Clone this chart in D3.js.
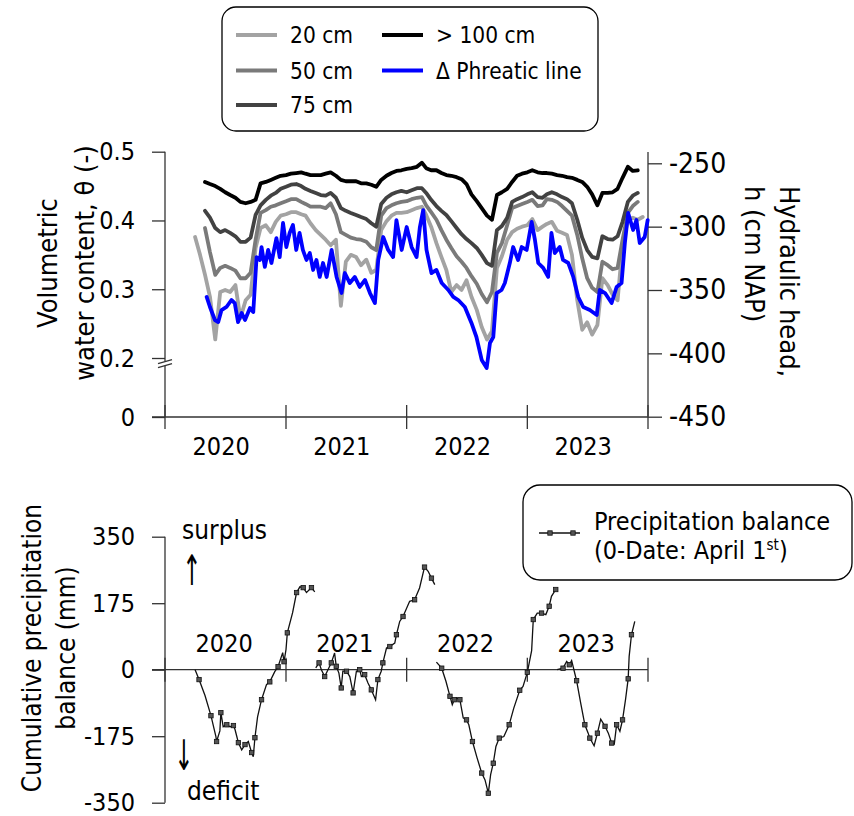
<!DOCTYPE html>
<meta charset="utf-8">
<style>
body { margin: 0; background: #fff; }
svg { font-family: "DejaVu Sans Condensed", "DejaVu Sans", sans-serif; font-stretch: condensed; }
.axis line { stroke: #333; stroke-width: 1.3px; }
.axisline { stroke: #333; stroke-width: 1.3px; fill: none; }
.series { fill: none; stroke-width: 3.8px; stroke-linejoin: round; stroke-linecap: round; }
</style>
<svg width="854" height="816"></svg>
<script src="https://d3js.org/d3.v7.min.js"></script>
<script>

// soil moisture, semi-monthly readings
var moistDates = [
  "2020-04-01","2020-04-16","2020-05-01","2020-05-16","2020-06-01","2020-06-16","2020-07-01","2020-07-16","2020-08-01","2020-08-16","2020-09-01","2020-09-16","2020-10-01","2020-10-16","2020-11-01","2020-11-16","2020-12-01","2020-12-16",
  "2021-01-01","2021-01-16","2021-02-01","2021-02-16","2021-03-01","2021-03-16","2021-04-01","2021-04-16","2021-05-01","2021-05-16","2021-06-01","2021-06-16","2021-07-01","2021-07-16","2021-08-01","2021-08-16","2021-09-01","2021-09-16","2021-10-01","2021-10-16","2021-11-01","2021-11-16","2021-12-01","2021-12-16",
  "2022-01-01","2022-01-16","2022-02-01","2022-02-16","2022-03-01","2022-03-16","2022-04-01","2022-04-16","2022-05-01","2022-05-16","2022-06-01","2022-06-16","2022-07-01","2022-07-16","2022-08-01","2022-08-16","2022-09-01","2022-09-16","2022-10-01","2022-10-16","2022-11-01","2022-11-16","2022-12-01","2022-12-16",
  "2023-01-01","2023-01-16","2023-02-01","2023-02-16","2023-03-01","2023-03-16","2023-04-01","2023-04-16","2023-05-01","2023-05-16","2023-06-01","2023-06-16","2023-07-01","2023-07-16","2023-08-01","2023-08-16","2023-09-01","2023-09-16","2023-10-01","2023-10-16","2023-11-01","2023-11-16","2023-12-01","2023-12-16"
];
var theta20 = [
  0.376,0.350,0.321,0.289,0.227,0.296,0.299,0.296,0.306,0.258,0.284,0.292,0.360,0.389,0.393,0.383,0.398,0.407,
  0.409,0.412,0.412,0.409,0.407,0.396,0.386,0.379,0.372,0.364,0.372,0.276,0.340,0.350,0.347,0.335,0.343,0.324,0.328,0.386,0.399,0.407,0.411,0.411,
  0.412,0.415,0.418,0.420,0.408,0.391,0.367,0.347,0.328,0.296,0.306,0.299,0.313,0.289,0.270,0.245,0.227,0.239,0.331,0.348,0.372,0.383,0.388,0.391,
  0.393,0.402,0.386,0.391,0.395,0.398,0.385,0.382,0.379,0.350,0.284,0.241,0.252,0.234,0.248,0.316,0.306,0.292,0.284,0.364,0.401,0.404,0.401,0.405
];
var theta50 = [
  null,null,0.389,0.354,0.321,0.331,0.334,0.331,0.327,0.316,0.316,0.324,0.372,0.411,0.415,0.420,0.422,0.425,
  0.428,0.431,0.431,0.427,0.424,0.420,0.420,0.420,0.418,0.425,0.409,0.383,0.379,0.375,0.373,0.372,0.369,0.361,0.357,0.407,0.418,0.422,0.425,0.427,
  0.428,0.431,0.433,0.434,0.422,0.412,0.401,0.386,0.372,0.360,0.348,0.340,0.331,0.319,0.308,0.293,0.281,0.296,0.353,0.367,0.393,0.418,0.421,0.424,
  0.427,0.430,0.421,0.422,0.431,0.430,0.427,0.421,0.414,0.407,0.379,0.345,0.316,0.302,0.296,0.340,0.335,0.329,0.331,0.372,0.411,0.421,0.427,null
];
var theta75 = [
  null,null,0.414,0.404,0.389,0.383,0.386,0.382,0.377,0.369,0.369,0.375,0.408,0.422,0.430,0.436,0.440,0.446,
  0.449,0.452,0.453,0.450,0.446,0.443,0.440,0.437,0.436,0.440,0.433,0.418,0.414,0.411,0.408,0.405,0.402,0.396,0.391,0.424,0.433,0.438,0.441,0.443,
  0.441,0.444,0.447,0.447,0.440,0.430,0.421,0.414,0.408,0.399,0.389,0.380,0.373,0.367,0.360,0.350,0.338,0.334,0.386,0.392,0.404,0.427,0.431,0.434,
  0.438,0.441,0.434,0.433,0.438,0.441,0.438,0.434,0.431,0.425,0.401,0.375,0.357,0.347,0.345,0.377,0.373,0.372,0.377,0.398,0.427,0.436,0.440,null
];
var theta100 = [
  null,null,0.456,0.453,0.450,0.446,0.441,0.437,0.433,0.427,0.425,0.427,0.430,0.454,0.456,0.459,0.462,0.465,
  0.466,0.468,0.469,0.470,0.468,0.466,0.466,0.466,0.468,0.470,0.465,0.459,0.457,0.457,0.457,0.454,0.454,0.452,0.449,0.459,0.465,0.469,0.472,0.473,
  0.475,0.476,0.478,0.484,0.476,0.473,0.473,0.469,0.466,0.465,0.463,0.460,0.453,0.438,0.428,0.418,0.407,0.401,0.437,0.441,0.446,0.456,0.465,0.468,
  0.470,0.473,0.470,0.469,0.469,0.468,0.466,0.465,0.463,0.462,0.459,0.456,0.449,0.438,0.422,0.440,0.440,0.441,0.446,0.462,0.478,0.472,0.473,null
];

// phreatic line (hydraulic head, cm NAP)
var headDates = [
  "2020-05-06","2020-05-16","2020-05-31","2020-06-10","2020-06-20","2020-07-05","2020-07-20","2020-07-30","2020-08-09","2020-08-20","2020-08-30","2020-09-14","2020-09-24",
  "2020-10-04","2020-10-14","2020-10-19","2020-10-29","2020-11-08","2020-11-18","2020-12-03","2020-12-13","2020-12-23",
  "2021-01-02","2021-01-12","2021-01-22","2021-02-01","2021-02-11","2021-02-21","2021-03-04","2021-03-14","2021-03-24","2021-04-03","2021-04-13","2021-04-23",
  "2021-05-04","2021-05-19","2021-06-03","2021-06-18","2021-06-28","2021-07-13","2021-07-28","2021-08-12","2021-08-28","2021-09-12","2021-09-27",
  "2021-10-07","2021-10-22","2021-11-06","2021-11-21","2021-12-01","2021-12-17",
  "2022-01-01","2022-01-16","2022-01-31","2022-02-10","2022-02-20","2022-03-02","2022-03-17","2022-04-01","2022-04-17","2022-05-07","2022-05-22",
  "2022-06-06","2022-06-26","2022-07-16","2022-07-31","2022-08-16","2022-08-31","2022-09-10","2022-09-20","2022-09-30","2022-10-15","2022-10-25",
  "2022-11-09","2022-11-19","2022-12-04","2022-12-15","2022-12-30",
  "2023-01-14","2023-01-24","2023-02-03","2023-02-18","2023-03-05","2023-03-15","2023-03-25","2023-04-09","2023-04-19","2023-05-05","2023-05-20",
  "2023-06-04","2023-06-19","2023-07-09","2023-07-30","2023-08-08","2023-08-24","2023-09-13","2023-09-28","2023-10-13","2023-10-23",
  "2023-11-02","2023-11-17","2023-11-27","2023-12-07","2023-12-22","2023-12-31"
];
var headValues = [
  -355.5,-363.4,-373.7,-375.3,-365.8,-363.4,-357.9,-360.3,-375.3,-368.2,-373.7,-364.2,-367.4,
  -324.0,-326.3,-316.1,-331.8,-318.4,-328.7,-309.0,-324.0,-297.1,
  -316.1,-305.0,-298.7,-318.4,-305.0,-318.4,-326.3,-320.8,-334.2,-326.3,-339.7,-328.7,
  -339.7,-318.4,-339.7,-352.4,-336.6,-344.5,-339.7,-347.6,-342.1,-352.4,-360.3,
  -326.3,-308.2,-318.4,-324.0,-294.8,-318.4,
  -300.3,-316.1,-324.0,-300.3,-286.9,-318.4,-336.6,-334.2,-344.5,-350.0,-355.5,
  -357.9,-363.4,-376.0,-387.1,-405.2,-411.6,-391.8,-387.1,-352.4,-350.0,-344.5,
  -328.7,-316.1,-326.3,-316.1,-318.4,
  -296.3,-310.5,-328.7,-332.6,-339.7,-305.0,-320.8,-316.1,-326.3,-328.7,-339.7,
  -355.5,-363.4,-365.8,-369.7,-350.0,-352.4,-360.3,-347.6,-344.5,-312.9,
  -289.2,-302.6,-294.8,-312.9,-308.2,-294.8
];

// cumulative precipitation balance (mm), one run per season from April 1st
var seasons = ["2020", "2021", "2022", "2023"];
var precipDates = [
  ["2020-04-01","2020-04-13","2020-05-01","2020-05-19","2020-06-03","2020-06-05","2020-06-15","2020-06-18","2020-06-25","2020-07-06","2020-07-16","2020-07-26","2020-07-31",
   "2020-08-10","2020-08-20","2020-08-30","2020-09-09","2020-09-19","2020-09-24","2020-09-29","2020-10-07","2020-10-19","2020-11-03","2020-11-13","2020-11-28",
   "2020-12-08","2020-12-22","2020-12-26","2021-01-01","2021-01-05","2021-01-21","2021-02-02","2021-02-12","2021-02-22","2021-03-04","2021-03-19","2021-03-29"],
  ["2021-04-01","2021-04-11","2021-04-18","2021-04-28","2021-05-08","2021-05-18","2021-05-28","2021-06-02","2021-06-10","2021-06-17","2021-06-22","2021-07-03","2021-07-13",
   "2021-07-23","2021-08-02","2021-08-12","2021-08-17","2021-08-27","2021-09-06","2021-09-16","2021-09-29","2021-10-06","2021-10-16","2021-10-21","2021-11-01",
   "2021-11-11","2021-11-26","2021-12-01","2021-12-11","2021-12-21","2022-01-10","2022-01-25","2022-02-09","2022-02-24","2022-03-07","2022-03-17","2022-03-27"],
  ["2022-04-01","2022-04-17","2022-04-30","2022-05-12","2022-05-19","2022-05-25","2022-06-01","2022-06-11","2022-06-21","2022-07-01","2022-07-08","2022-07-19","2022-08-02",
   "2022-08-16","2022-08-26","2022-09-05","2022-09-12","2022-09-20","2022-09-28","2022-10-08","2022-10-22","2022-11-07","2022-11-21","2022-12-09","2022-12-19",
   "2023-01-01","2023-01-14","2023-01-19","2023-01-31","2023-02-13","2023-02-26","2023-03-08","2023-03-15","2023-03-28"],
  ["2023-04-01","2023-04-19","2023-04-30","2023-05-08","2023-05-15","2023-05-30","2023-06-11","2023-06-24","2023-07-04","2023-07-09","2023-07-22","2023-08-01","2023-08-11",
   "2023-08-24","2023-09-03","2023-09-13","2023-09-21","2023-09-28","2023-10-08","2023-10-16","2023-10-25","2023-11-02","2023-11-05","2023-11-12","2023-11-22"]
];
var precipBalance = [
  [0,-26,-68,-121,-176,-189,-161,-113,-150,-145,-150,-147,-158,-192,-211,-197,-189,-218,-229,-179,-124,-79,-39,-32,-5,8,45,21,53,97,150,203,218,216,203,216,205],
  [5,18,0,-18,0,18,44,9,-9,-48,-4,-4,-18,-61,-4,0,-18,-13,-35,-53,-79,-26,-4,18,57,61,70,92,127,140,180,184,215,270,259,241,224],
  [20,4,-31,-70,-92,-79,-74,-79,-127,-132,-145,-189,-232,-272,-290,-325,-276,-246,-202,-180,-176,-145,-101,-54,-44,-7,50,132,149,149,145,167,193,211],
  [0,4,22,13,24,-29,-86,-145,-167,-180,-200,-167,-130,-149,-167,-193,-196,-145,-162,-132,-79,-24,35,92,127]
];

var years = [2020, 2021, 2022, 2023];
var thetaTicks = [0, 0.2, 0.3, 0.4, 0.5];
var headTicks = [-450, -400, -350, -300, -250];
var precipTicks = [-350, -175, 0, 175, 350];

var legendNames = ["20 cm", "50 cm", "75 cm", "> 100 cm", "\u0394 Phreatic line"];
var seriesColors = ["#a3a3a3", "#7a7a7a", "#424242", "#000000", "#0000ff"];

var svg = d3.select("svg");
var parse = d3.timeParse("%Y-%m-%d");
var plain = function(d) { return String(d); };

var x = d3.scaleTime().domain([new Date(2020, 0, 1), new Date(2024, 0, 1)]).range([165, 648]);
var yTheta = d3.scaleLinear().domain([0, 0.2, 0.5]).range([417, 358, 151.7]);
var yHead = d3.scaleLinear().domain([-450, -250]).range([416.7, 163.3]);
var yPrec = d3.scaleLinear().domain([-350, 350]).range([802.7, 536.7]);

function cleanAxis(g, size) {
  g.attr("font-family", null).attr("font-size", null);
  g.select(".domain").remove();
  g.selectAll("text").style("font-size", size + "px").attr("fill", "#000");
}

// ---- top chart axes
var gL = svg.append("g").attr("class", "axis").attr("transform", "translate(165,0)")
  .call(d3.axisLeft(yTheta).tickValues(thetaTicks)
    .tickFormat(function(d) { return d === 0 ? "0" : d.toFixed(1); })
    .tickSize(13).tickPadding(17));
cleanAxis(gL, 25);

// left axis line with a break between 0 and 0.2
svg.append("line").attr("class", "axisline").attr("x1", 165).attr("x2", 165)
  .attr("y1", yTheta(0.5)).attr("y2", 361);
svg.append("line").attr("class", "axisline").attr("x1", 165).attr("x2", 165)
  .attr("y1", 366).attr("y2", yTheta(0));
[361.5, 365.5].forEach(function(by) {
  svg.append("line").attr("class", "axisline").attr("x1", 158).attr("x2", 172)
    .attr("y1", by + 2).attr("y2", by - 2);
});

var gR = svg.append("g").attr("class", "axis").attr("transform", "translate(648,0)")
  .call(d3.axisRight(yHead).tickValues(headTicks).tickFormat(plain).tickSize(14).tickPadding(7));
cleanAxis(gR, 28);
svg.append("line").attr("class", "axisline").attr("x1", 648).attr("x2", 648)
  .attr("y1", 152).attr("y2", yHead(-450));

svg.append("line").attr("class", "axisline").attr("x1", 152).attr("x2", 648)
  .attr("y1", yTheta(0)).attr("y2", yTheta(0));
years.concat([2024]).forEach(function(yr) {
  svg.append("line").attr("class", "axisline")
    .attr("x1", x(new Date(yr, 0, 1))).attr("x2", x(new Date(yr, 0, 1)))
    .attr("y1", yTheta(0) - 12).attr("y2", yTheta(0) + 12);
});
svg.append("g").selectAll("text").data(years).enter().append("text")
  .attr("x", function(d) { return x(new Date(d, 6, 1)) - 4; })
  .attr("y", 446).attr("text-anchor", "middle").attr("dominant-baseline", "central")
  .style("font-size", "25px").text(function(d) { return d; });

// ---- top chart series
var thetaSeries = [theta20, theta50, theta75, theta100];
var lineTheta = d3.line()
  .defined(function(d) { return d.v !== null; })
  .x(function(d) { return x(d.date); })
  .y(function(d) { return yTheta(d.v); });

thetaSeries.forEach(function(vals, i) {
  var pts = moistDates.map(function(s, k) { return { date: parse(s), v: vals[k] }; });
  svg.append("path").attr("class", "series").attr("stroke", seriesColors[i]).attr("d", lineTheta(pts));
});

var headPts = headDates.map(function(s, k) { return { date: parse(s), v: headValues[k] }; });
svg.append("path").attr("class", "series").attr("stroke", seriesColors[4])
  .attr("d", d3.line().x(function(d) { return x(d.date); }).y(function(d) { return yHead(d.v); })(headPts));

// axis titles
svg.append("text").attr("transform", "translate(47,263) rotate(-90)")
  .attr("text-anchor", "middle").attr("dominant-baseline", "central")
  .style("font-size", "27px").text("Volumetric");
svg.append("text").attr("transform", "translate(84,263) rotate(-90)")
  .attr("text-anchor", "middle").attr("dominant-baseline", "central")
  .style("font-size", "27px").text("water content,  \u03b8 (-)");
svg.append("text").attr("transform", "translate(789,186) rotate(90)")
  .attr("text-anchor", "start").attr("dominant-baseline", "central")
  .style("font-size", "27px").text("Hydraulic head,");
svg.append("text").attr("transform", "translate(754,186) rotate(90)")
  .attr("text-anchor", "start").attr("dominant-baseline", "central")
  .style("font-size", "27px").text("h (cm NAP)");

// ---- top legend
svg.append("rect").attr("x", 222).attr("y", 7).attr("width", 376).attr("height", 124)
  .attr("rx", 14).attr("fill", "#fff").attr("stroke", "#000").attr("stroke-width", 1.3);
var legPos = [[236, 35], [236, 70.5], [236, 105], [382, 35], [382, 70.5]];
legendNames.forEach(function(name, i) {
  var p = legPos[i];
  svg.append("line").attr("x1", p[0]).attr("x2", p[0] + 41).attr("y1", p[1]).attr("y2", p[1])
    .attr("stroke", seriesColors[i]).attr("stroke-width", 4);
  svg.append("text").attr("x", p[0] + 54).attr("y", p[1]).attr("dominant-baseline", "central")
    .style("font-size", "22.5px").text(name);
});

// ---- bottom chart axes
var gB = svg.append("g").attr("class", "axis").attr("transform", "translate(165,0)")
  .call(d3.axisLeft(yPrec).tickValues(precipTicks).tickFormat(plain).tickSize(13).tickPadding(17));
cleanAxis(gB, 25);
svg.append("line").attr("class", "axisline").attr("x1", 165).attr("x2", 165)
  .attr("y1", yPrec(350)).attr("y2", yPrec(-350));
svg.append("line").attr("class", "axisline").attr("x1", 152).attr("x2", 648)
  .attr("y1", yPrec(0)).attr("y2", yPrec(0));
years.concat([2024]).forEach(function(yr) {
  svg.append("line").attr("class", "axisline")
    .attr("x1", x(new Date(yr, 0, 1))).attr("x2", x(new Date(yr, 0, 1)))
    .attr("y1", yPrec(0) - 12).attr("y2", yPrec(0) + 12);
});
svg.append("g").selectAll("text").data(years).enter().append("text")
  .attr("x", function(d) { return x(new Date(d, 6, 1)) - 1; })
  .attr("y", 643).attr("text-anchor", "middle").attr("dominant-baseline", "central")
  .style("font-size", "25px").text(function(d) { return d; });

// bottom series
var linePrec = d3.line().x(function(d) { return x(d.date); }).y(function(d) { return yPrec(d.v); });
seasons.forEach(function(s, i) {
  var pts = precipDates[i].map(function(ds, k) { return { date: parse(ds), v: precipBalance[i][k] }; });
  svg.append("path").attr("fill", "none").attr("stroke", "#111").attr("stroke-width", 1.3)
    .attr("d", linePrec(pts));
  svg.append("g").selectAll("rect").data(pts.filter(function(d, k) { return k % 2 === 1; }))
    .enter().append("rect")
    .attr("x", function(d) { return x(d.date) - 2.2; })
    .attr("y", function(d) { return yPrec(d.v) - 2.2; })
    .attr("width", 4.4).attr("height", 4.4)
    .attr("fill", "#555").attr("stroke", "#111").attr("stroke-width", 0.8);
});

svg.append("text").attr("transform", "translate(32,648) rotate(-90)")
  .attr("text-anchor", "middle").attr("dominant-baseline", "central")
  .style("font-size", "26px").text("Cumulative precipitation");
svg.append("text").attr("transform", "translate(66,648) rotate(-90)")
  .attr("text-anchor", "middle").attr("dominant-baseline", "central")
  .style("font-size", "26px").text("balance (mm)");

svg.append("text").attr("x", 182).attr("y", 539).style("font-size", "26px").text("surplus");
svg.append("text").attr("transform", "translate(192,570) scale(0.6,1)")
  .attr("text-anchor", "middle").attr("dominant-baseline", "central")
  .style("font-size", "42px").text("\u2191");
svg.append("text").attr("transform", "translate(184,755) scale(0.6,1)")
  .attr("text-anchor", "middle").attr("dominant-baseline", "central")
  .style("font-size", "42px").text("\u2193");
svg.append("text").attr("x", 187).attr("y", 800).style("font-size", "26px").text("deficit");

// bottom legend
svg.append("rect").attr("x", 523).attr("y", 485).attr("width", 329).attr("height", 95)
  .attr("rx", 17).attr("fill", "#fff").attr("stroke", "#000").attr("stroke-width", 1.3);
svg.append("line").attr("x1", 539).attr("x2", 580).attr("y1", 533).attr("y2", 533)
  .attr("stroke", "#111").attr("stroke-width", 1.3);
[550, 573].forEach(function(mx) {
  svg.append("rect").attr("x", mx - 2.2).attr("y", 533 - 2.2).attr("width", 4.4).attr("height", 4.4)
    .attr("fill", "#555").attr("stroke", "#111").attr("stroke-width", 0.8);
});
svg.append("text").attr("x", 594).attr("y", 530).style("font-size", "25px").text("Precipitation balance");
var t2 = svg.append("text").attr("x", 594).attr("y", 559).style("font-size", "25px");
t2.append("tspan").text("(0-Date: April 1");
t2.append("tspan").attr("baseline-shift", "super").style("font-size", "15px").text("st");
t2.append("tspan").text(")");

</script>
